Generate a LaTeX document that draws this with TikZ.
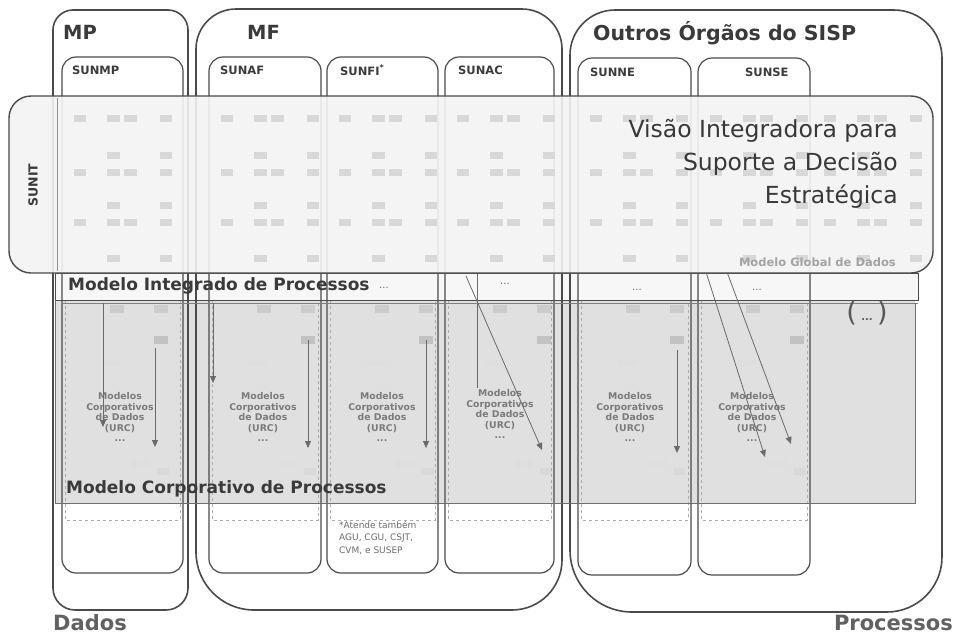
\documentclass[tikz,border=0pt]{standalone}
\usepackage{fontspec}
\setmainfont{DejaVu Sans}
\usetikzlibrary{arrows.meta}
\definecolor{ln}{HTML}{4A4A4A}
\definecolor{tx}{HTML}{3A3A3A}
\definecolor{areagray}{HTML}{E0E0E0}
\definecolor{bandfill}{HTML}{F3F3F3}
\definecolor{faintbox}{HTML}{D8D8D8}
\definecolor{arr}{HTML}{6A6A6A}
\newcommand\rrbox[9]{%
 \draw[#1,rounded corners=#6pt] (#2,{(#3+#5)/2}) -- (#2,#3) -- ({(#2+#4)/2},#3);
 \draw[#1,rounded corners=#7pt] ({(#2+#4)/2},#3) -- (#4,#3) -- (#4,{(#3+#5)/2});
 \draw[#1,rounded corners=#8pt] (#4,{(#3+#5)/2}) -- (#4,#5) -- ({(#2+#4)/2},#5);
 \draw[#1,rounded corners=#9pt] ({(#2+#4)/2},#5) -- (#2,#5) -- (#2,{(#3+#5)/2});
}
\tikzset{
 outer/.style={draw=ln, line width=1.6pt, line cap=round},
 unitbox/.style={draw=ln, line width=1.2pt, rounded corners=14pt},
 biglabel/.style={font=\bfseries\fontsize{19.5}{22}\selectfont, text=tx, anchor=west, inner sep=0pt},
 unitlabel/.style={font=\bfseries\fontsize{11.5}{13}\selectfont, text=tx, anchor=west, inner sep=0pt},
 urc/.style={font=\bfseries\fontsize{9.3}{10.5}\selectfont, text=black!52, align=center, inner sep=0pt},
 flow/.style={draw=arr, line width=0.8pt, -{Triangle[length=7pt,width=6pt]}},
 innerbox/.style={draw=gray!65, dashed, line width=0.6pt},
 bandtitle/.style={font=\bfseries\fontsize{17}{20}\selectfont, text=tx, anchor=west, inner sep=0pt},
 dots/.style={font=\fontsize{10}{12}\selectfont, text=black!60, inner sep=0pt},
}
\begin{document}
\begin{tikzpicture}[x=1pt,y=-1pt]
\useasboundingbox (0,0) rectangle (954,635);
% gray area of corporate models
\fill[areagray] (55,300) rectangle (915,503);
% band "Modelo Integrado de Processos"
\fill[white!94!gray] (55,273) rectangle (918,300);
% faint content in the gray area
\foreach \cx in {62,209,327,445,578,698}{
  \fill[black!20] (\cx+48,305) rectangle ++(14,8);
  \fill[black!20] (\cx+92,305) rectangle ++(14,8);
  \fill[black!24] (\cx+92,336) rectangle ++(14,8);
  \fill[black!13] (\cx+40,360) rectangle ++(18,6);
  \fill[black!13] (\cx+70,460) rectangle ++(18,7);
  \fill[black!15] (\cx+95,468) rectangle ++(12,7);
}
% dashed inner frames of each unit
\foreach \l/\r in {62/183,209/321,327/438,445/554,578/691,698/810}{
  \draw[innerbox] (\l+3,300) rectangle (\r-3,520);
}
% outer organisation boxes
\rrbox{outer}{53}{10}{188}{610}{20}{20}{22}{22}
\rrbox{outer}{196}{9}{562}{610}{40}{40}{50}{58}
\rrbox{outer}{570}{10}{942}{612}{45}{48}{55}{62}
% unit boxes
\draw[unitbox] (62,57) rectangle (183,573);
\draw[unitbox] (209,57) rectangle (321,573);
\draw[unitbox] (327,57) rectangle (438,573);
\draw[unitbox] (445,57) rectangle (554,573);
\draw[unitbox] (578,58) rectangle (691,575);
\draw[unitbox] (698,58) rectangle (810,575);
% horizontal frame lines
\draw[ln, line width=0.9pt] (55,273) rectangle (918,300);
\draw[ln!70, line width=0.7pt] (63,303) -- (918,303);
\draw[ln!80, line width=0.9pt] (55,300) -- (55,503) -- (915,503) -- (915,303);
% labels of the boxes
\node[biglabel] (mp) at (63,32) {MP};
\node[biglabel] (mf) at (247,32) {MF};
\node[biglabel, font=\bfseries\fontsize{20.5}{23}\selectfont] (sisp) at (593,33) {Outros Órgãos do SISP};
\node[unitlabel] (sunmp) at (72,70) {SUNMP};
\node[unitlabel] (sunaf) at (220,70) {SUNAF};
\node[unitlabel] (sunfi) at (340,70) {SUNFI\textsuperscript{*}};
\node[unitlabel] (sunac) at (458,70) {SUNAC};
\node[unitlabel] (sunne) at (590,72) {SUNNE};
\node[unitlabel] (sunse) at (745,72) {SUNSE};
% band texts
\node[bandtitle] (mip) at (68,286) {Modelo Integrado de Processos};
\node[dots] (d0) at (384,288) {...};
\node[dots] (d1) at (505,284) {...};
\node[dots] (d2) at (637,290) {...};
\node[dots] (d3) at (757,290) {...};
\node[font=\fontsize{27}{29}\selectfont, text=black!65, inner sep=0pt] (more) at (867,313) {(\,\raisebox{1pt}{\fontsize{10}{10}\selectfont\bfseries ...}\,)};
% data models
\node[urc] (u1) at (120,417) {Modelos\\Corporativos\\de Dados\\(URC)\\...};
\node[urc] (u2) at (263,417) {Modelos\\Corporativos\\de Dados\\(URC)\\...};
\node[urc] (u3) at (382,417) {Modelos\\Corporativos\\de Dados\\(URC)\\...};
\node[urc] (u4) at (500,414) {Modelos\\Corporativos\\de Dados\\(URC)\\...};
\node[urc] (u5) at (630,417) {Modelos\\Corporativos\\de Dados\\(URC)\\...};
\node[urc] (u6) at (752,417) {Modelos\\Corporativos\\de Dados\\(URC)\\...};
% arrows
\coordinate (s1) at (103,303); \coordinate (e1) at (103,427);
\coordinate (s2) at (155,348); \coordinate (e2) at (155,447);
\coordinate (s3) at (213,303); \coordinate (e3) at (213,383);
\coordinate (s4) at (308,340); \coordinate (e4) at (308,448);
\coordinate (s5) at (426,340); \coordinate (e5) at (426,448);
\coordinate (s6) at (477,274); \coordinate (e6) at (477,388);
\coordinate (s7) at (466,276); \coordinate (e7) at (542,450);
\coordinate (s8) at (677,350); \coordinate (e8) at (677,453);
\coordinate (s9) at (706,272); \coordinate (e9) at (765,457);
\coordinate (s10) at (727,272); \coordinate (e10) at (791,444);
\draw[flow] (s1) -- (e1);
\draw[flow] (s2) -- (e2);
\draw[flow] (s3) -- (e3);
\draw[flow] (s4) -- (e4);
\draw[flow] (s5) -- (e5);
\draw[draw=arr, line width=0.8pt] (s6) -- (e6);
\draw[flow] (s7) -- (e7);
\draw[flow] (s8) -- (e8);
\draw[flow] (s9) -- (e9);
\draw[flow] (s10) -- (e10);
\node[bandtitle] (mcp) at (66,489) {Modelo Corporativo de Processos};
% footnote
\node[font=\fontsize{9}{12.5}\selectfont, text=black!58, align=left, anchor=north west, inner sep=0pt] (fn) at (339,521) {*Atende também\\AGU, CGU, CSJT,\\CVM, e SUSEP};
% SUNIT band
\draw[draw=ln, line width=1.4pt, fill=bandfill, fill opacity=0.9, rounded corners=22pt] (9,96) rectangle (933,273);
\draw[ln!60, line width=0.8pt] (57,98) -- (57,271);
\foreach \cx in {62,209,327,445,578,698,812}{
  \foreach \ry in {118,172,222}{
    \fill[faintbox] (\cx+12,\ry-3) rectangle ++(12,7);
    \fill[faintbox] (\cx+45,\ry-3) rectangle ++(13,7);
    \fill[faintbox] (\cx+62,\ry-3) rectangle ++(13,7);
    \fill[faintbox] (\cx+98,\ry-3) rectangle ++(12,7);
  }
  \foreach \ry in {155,205,258}{
    \fill[faintbox] (\cx+45,\ry-3) rectangle ++(13,7);
    \fill[faintbox] (\cx+98,\ry-3) rectangle ++(12,7);
  }
}
\node[font=\bfseries\fontsize{12.5}{14}\selectfont, text=tx, rotate=90, inner sep=0pt] (sunit) at (33,185) {SUNIT};
\node[font=\fontsize{23.5}{33}\selectfont, text=black!78, align=right, anchor=north east, inner sep=0pt] (vis) at (898,119) {Visão Integradora para\\Suporte a Decisão\\Estratégica};
\node[font=\bfseries\fontsize{11.5}{13}\selectfont, text=black!36, anchor=east, inner sep=0pt] (mgd) at (896,262) {Modelo Global de Dados};
% bottom labels
\node[font=\bfseries\fontsize{21}{24}\selectfont, text=black!62, anchor=west, inner sep=0pt] (dados) at (53,623) {Dados};
\node[font=\bfseries\fontsize{21}{24}\selectfont, text=black!62, anchor=east, inner sep=0pt] (proc) at (953,623) {Processos};
\end{tikzpicture}
\end{document}
